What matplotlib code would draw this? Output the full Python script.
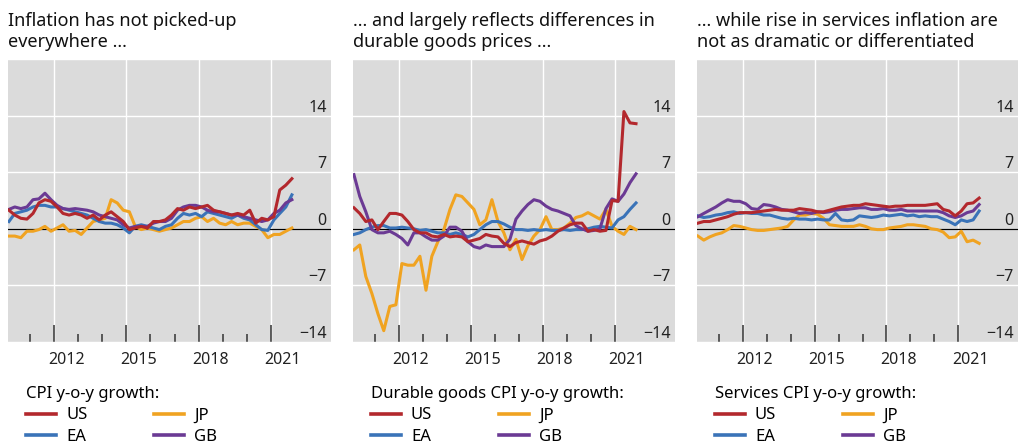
import matplotlib
matplotlib.use("Agg")
import matplotlib.pyplot as plt
import matplotlib.dates as mdates
from matplotlib.lines import Line2D
import pandas as pd

plt.rcParams["font.family"] = ["Noto Sans", "DejaVu Sans"]

# quarterly observations, mid-quarter-month (Feb, May, Aug, Nov), 2010 to 2021
dates = pd.date_range("2010-02-01", periods=48, freq="3MS") + pd.Timedelta(days=14)

# headline CPI, % y-o-y
cpi_us = [2.3, 1.7, 1.3, 1.2, 1.9, 3.2, 3.6, 3.4, 2.7, 1.9, 1.7, 1.9, 1.7, 1.3, 1.7, 1.1,
          1.7, 2.1, 1.5, 0.9, -0.1, 0.1, 0.3, 0.1, 0.9, 0.9, 1.1, 1.7, 2.5, 2.3, 2.7, 2.5,
          2.7, 2.9, 2.3, 2.1, 1.9, 1.7, 1.9, 1.7, 2.3, 0.7, 1.3, 1.1, 1.5, 4.8, 5.4, 6.2]
cpi_ea = [0.9, 1.9, 2.1, 2.3, 2.7, 2.9, 2.9, 2.7, 2.7, 2.5, 2.3, 2.1, 1.9, 1.7, 1.3, 0.9,
          0.7, 0.7, 0.5, 0.1, -0.5, 0.3, 0.5, 0.3, 0.1, -0.1, 0.3, 0.5, 1.3, 1.9, 1.7, 1.9,
          1.5, 2.1, 1.9, 1.7, 1.5, 1.3, 1.7, 1.3, 1.1, 0.5, -0.1, -0.2, 1.1, 1.9, 2.7, 4.2]
cpi_jp = [-0.9, -0.9, -1.1, -0.3, -0.3, -0.1, 0.3, -0.3, 0.1, 0.5, -0.3, -0.2, -0.7, 0.1, 0.9, 1.1,
          1.3, 3.6, 3.2, 2.3, 2.1, 0.3, -0.1, 0.1, -0.1, -0.3, -0.1, 0.1, 0.5, 0.9, 0.9, 1.3,
          1.5, 0.9, 1.3, 0.7, 0.5, 0.9, 0.5, 0.7, 0.7, 0.3, -0.1, -1.1, -0.7, -0.7, -0.3, 0.1]
cpi_gb = [2.4, 2.7, 2.5, 2.7, 3.6, 3.7, 4.4, 3.6, 2.9, 2.5, 2.4, 2.5, 2.4, 2.3, 2.1, 1.7,
          1.5, 1.3, 1.1, 0.5, 0.1, 0.3, 0.3, 0.3, 0.7, 0.9, 0.9, 1.3, 2.3, 2.7, 2.9, 2.9,
          2.7, 2.3, 2.1, 2.1, 1.9, 1.7, 1.7, 1.5, 1.3, 1.1, 0.9, 1.1, 1.9, 2.3, 3.2, 3.6]

# durable goods CPI, % y-o-y
dur_us = [2.6, 1.9, 0.9, 1.1, -0.1, 0.9, 1.9, 1.9, 1.7, 0.9, -0.1, -0.5, -0.5, -0.9, -1.0, -0.7,
          -1.0, -0.9, -1.0, -1.6, -1.4, -1.2, -0.7, -0.9, -1.0, -1.8, -2.2, -1.7, -1.5, -1.7, -1.9, -1.5,
          -1.3, -0.9, -0.3, 0.1, 0.5, 0.7, 0.7, -0.3, -0.1, -0.3, -0.2, 3.5, 3.4, 14.5, 13.1, 13.0]
dur_ea = [-0.7, -0.5, -0.1, 0.2, 0.4, 0.4, 0.1, 0.1, 0.2, 0.1, 0.0, -0.2, -0.1, -0.3, -0.5, -0.5,
          -0.7, -0.5, -0.7, -1.0, -0.7, -0.1, 0.5, 0.9, 0.9, 0.6, 0.2, -0.1, -0.1, -0.2, -0.1, -0.2,
          -0.1, -0.2, -0.2, -0.1, -0.2, -0.1, -0.1, 0.0, 0.2, 0.3, 0.2, 0.1, 1.1, 1.5, 2.4, 3.2]
dur_jp = [-2.6, -2.0, -5.9, -8.0, -10.5, -12.6, -9.6, -9.4, -4.3, -4.5, -4.5, -3.4, -7.6, -3.4, -1.6, -0.1,
          2.4, 4.2, 4.0, 3.2, 2.4, 0.5, 1.1, 3.6, 0.9, -0.5, -2.6, -1.3, -3.8, -2.1, -0.9, -0.1,
          1.5, -0.1, -0.1, 0.1, 0.7, 1.4, 1.6, 2.0, 1.6, 1.2, 2.4, 0.3, -0.3, -0.7, 0.3, -0.1]
dur_gb = [6.7, 4.0, 2.1, -0.1, -0.5, -0.5, -0.3, -0.7, -1.2, -2.0, -0.5, -0.5, -1.0, -1.4, -1.4, -0.9,
          0.2, 0.2, -0.3, -1.6, -2.2, -2.4, -2.0, -2.2, -2.2, -2.2, -1.3, 1.2, 2.2, 3.0, 3.6, 3.4,
          2.8, 2.4, 2.2, 1.9, 1.6, 0.4, 0.0, -0.3, -0.2, 0.0, 2.5, 3.7, 3.4, 4.3, 5.7, 6.8]

# services CPI, % y-o-y
srv_us = [0.7, 0.9, 0.9, 1.1, 1.3, 1.5, 1.8, 2.0, 2.0, 2.0, 2.1, 2.2, 2.3, 2.4, 2.3, 2.3,
          2.3, 2.5, 2.4, 2.3, 2.1, 2.1, 2.3, 2.5, 2.7, 2.8, 2.9, 2.9, 3.1, 3.0, 2.9, 2.8,
          2.7, 2.8, 2.8, 2.9, 2.9, 2.9, 2.9, 3.0, 3.1, 2.4, 2.2, 1.6, 2.2, 3.1, 3.2, 3.8]
srv_ea = [1.6, 1.4, 1.5, 1.7, 1.8, 2.0, 2.1, 1.9, 2.0, 1.9, 1.9, 1.7, 1.7, 1.5, 1.3, 1.2,
          1.3, 1.2, 1.2, 1.1, 1.2, 1.1, 1.1, 1.9, 1.1, 1.0, 1.1, 1.6, 1.5, 1.4, 1.5, 1.7,
          1.6, 1.7, 1.8, 1.6, 1.7, 1.5, 1.6, 1.5, 1.5, 1.2, 0.9, 0.5, 1.1, 0.9, 1.1, 2.2]
srv_jp = [-0.9, -1.4, -1.0, -0.7, -0.5, -0.1, 0.4, 0.3, 0.1, -0.1, -0.2, -0.2, -0.1, 0.0, 0.1, 0.3,
          1.1, 1.7, 1.7, 1.9, 1.8, 1.3, 0.5, 0.4, 0.3, 0.3, 0.3, 0.5, 0.3, 0.0, -0.1, -0.1,
          0.1, 0.2, 0.3, 0.5, 0.5, 0.4, 0.3, 0.0, -0.1, -0.4, -1.1, -1.0, -0.3, -1.6, -1.4, -1.8]
srv_gb = [1.5, 1.9, 2.3, 2.7, 3.2, 3.6, 3.4, 3.4, 3.1, 2.5, 2.4, 3.0, 2.9, 2.7, 2.4, 2.3,
          2.1, 1.9, 2.0, 1.9, 2.1, 2.0, 2.1, 2.3, 2.4, 2.4, 2.5, 2.6, 2.6, 2.4, 2.4, 2.5,
          2.3, 2.3, 2.4, 2.2, 2.2, 2.2, 2.2, 2.2, 2.2, 2.0, 1.6, 1.4, 1.6, 2.0, 2.2, 3.0]

titles = ["Inflation has not picked-up\neverywhere ...",
          "... and largely reflects differences in\ndurable goods prices ...",
          "... while rise in services inflation are\nnot as dramatic or differentiated"]
legend_titles = ["CPI y-o-y growth:", "Durable goods CPI y-o-y growth:",
                 "Services CPI y-o-y growth:"]
countries = ["US", "EA", "JP", "GB"]
panel_data = [
    {"US": cpi_us, "EA": cpi_ea, "JP": cpi_jp, "GB": cpi_gb},
    {"US": dur_us, "EA": dur_ea, "JP": dur_jp, "GB": dur_gb},
    {"US": srv_us, "EA": srv_ea, "JP": srv_jp, "GB": srv_gb},
]
y_ticks = [-14, -7, 0, 7, 14]
label_years = [2012, 2015, 2018, 2021]
minor_years = [2011, 2013, 2014, 2016, 2017, 2019, 2020]

colors = {"US": "#b3282d", "EA": "#3a73b8", "JP": "#f0a321", "GB": "#6b3a94"}
draw_order = ["JP", "EA", "GB", "US"]
BG = "#dbdbdb"

W, H = 1018, 443
fig = plt.figure(figsize=(W / 100, H / 100), dpi=100)

panel_left = [8, 353, 697]
panel_width = [323, 322, 321]
ax_top, ax_bottom = 59, 342

for k in range(3):
    ax = fig.add_axes([panel_left[k] / W, (H - ax_bottom) / H,
                       panel_width[k] / W, (ax_bottom - ax_top) / H])
    ax.set_facecolor(BG)
    for s in ax.spines.values():
        s.set_visible(False)

    series = panel_data[k]
    for c in draw_order:
        ax.plot(dates, series[c], color=colors[c], lw=2.2, solid_joinstyle="round", zorder=3)
    ax.axhline(0, color="black", lw=0.9, zorder=2)

    ax.set_ylim(-14, 21)
    ax.set_xlim(pd.Timestamp("2010-02-01"), pd.Timestamp("2023-07-01"))

    # y axis: labels inside on the right, sitting on the gridlines
    ax.yaxis.tick_right()
    ax.set_yticks(y_ticks + [21])
    ax.set_yticklabels([f"{t}".replace("-", "\u2212") for t in y_ticks] + [""])
    ax.tick_params(axis="y", length=0, pad=-3, labelsize=11.5, labelcolor="#222222")
    for lab in ax.get_yticklabels():
        lab.set_horizontalalignment("right")
        lab.set_verticalalignment("bottom")

    # x axis: long ticks on label years, short ticks on the others
    ax.set_xticks([pd.Timestamp(f"{y}-01-01") for y in label_years])
    ax.set_xticklabels([])
    ax.set_xticks([pd.Timestamp(f"{y}-01-01") for y in minor_years], minor=True)
    ax.tick_params(axis="x", which="major", direction="in", length=12, width=1.1, color="#333333")
    ax.tick_params(axis="x", which="minor", direction="in", length=6, width=1.1, color="#333333")
    ax.grid(True, which="major", color="white", lw=1.0, zorder=0)
    ax.set_axisbelow(True)
    for y in label_years:
        ax.text(mdates.date2num(pd.Timestamp(f"{y}-07-01")), -0.036, str(y),
                transform=ax.get_xaxis_transform(), ha="center", va="top",
                fontsize=11.5, color="#222222")

    fig.text(panel_left[k] / W, 1 - 12 / H, titles[k], ha="left", va="top",
             fontsize=13, linespacing=1.22, color="#111111")

    handles = [Line2D([], [], color=colors[c], lw=2.6) for c in countries]
    leg = fig.legend(handles, countries, title=legend_titles[k], ncol=2,
                     loc="upper left", bbox_to_anchor=((panel_left[k] + 18) / W, 1 - 386 / H),
                     frameon=False, fontsize=12, title_fontsize=12, handlelength=1.8,
                     handletextpad=0.6, columnspacing=4.0, labelspacing=0.32,
                     borderpad=0, borderaxespad=0, alignment="left")

fig.savefig("out.png", dpi=100)
